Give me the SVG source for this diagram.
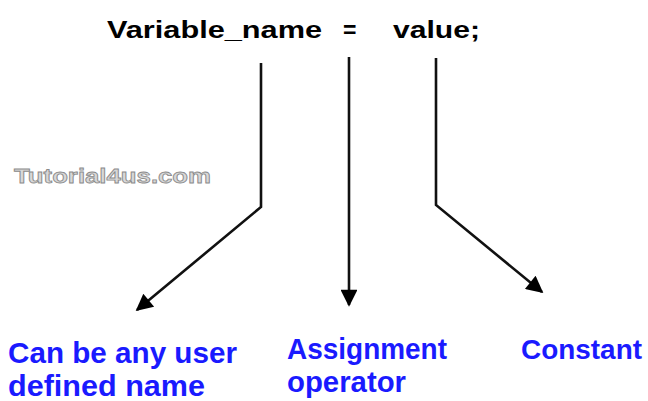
<svg xmlns="http://www.w3.org/2000/svg" width="648" height="401" viewBox="0 0 648 401">
<style>
.top{font-family:"Liberation Sans",Arial,sans-serif;font-weight:bold;font-size:23px;fill:#000}
.lbl{font-family:"Liberation Sans",Arial,sans-serif;font-weight:bold;font-size:30px;fill:#1a1aff}
.wm{font-family:"Liberation Sans",Arial,sans-serif;font-weight:bold;font-size:21px;fill:#d8d8d8;stroke:#8a8a8a;stroke-width:0.8}
.ln{fill:none;stroke:#111;stroke-width:2.6}
</style>
<defs>
<marker id="ah" viewBox="0 0 10 10" refX="9" refY="5" markerWidth="7.5" markerHeight="6.5" markerUnits="strokeWidth" orient="auto">
<path d="M0,0 L10,5 L0,10 z" fill="#000"/>
</marker>
</defs>
<rect width="648" height="401" fill="#fff"/>
<g id="expression">
<text class="top" x="107" y="38" textLength="215" lengthAdjust="spacingAndGlyphs">Variable_name</text>
<text class="top" x="343" y="38">=</text>
<text class="top" x="393" y="38" textLength="87" lengthAdjust="spacingAndGlyphs">value;</text>
</g>
<g id="watermark">
<text class="wm" x="14" y="183" textLength="197" lengthAdjust="spacingAndGlyphs">Tutorial4us.com</text>
</g>
<g id="connectors">
<polyline class="ln" points="261,63 261,207 137,310" marker-end="url(#ah)"/>
<line class="ln" x1="349" y1="57" x2="349" y2="305" marker-end="url(#ah)"/>
<polyline class="ln" points="436,58 436,205 542,292" marker-end="url(#ah)"/>
</g>
<g id="node-name">
<text class="lbl" x="8" y="363" textLength="229" lengthAdjust="spacingAndGlyphs">Can be any user</text>
<text class="lbl" x="8" y="396" textLength="197" lengthAdjust="spacingAndGlyphs">defined name</text>
</g>
<g id="node-operator">
<text class="lbl" x="287" y="359" textLength="160" lengthAdjust="spacingAndGlyphs">Assignment</text>
<text class="lbl" x="287" y="392" textLength="119" lengthAdjust="spacingAndGlyphs">operator</text>
</g>
<g id="node-constant">
<text class="lbl" x="521" y="359" style="font-size:27px" textLength="121" lengthAdjust="spacingAndGlyphs">Constant</text>
</g>
</svg>
